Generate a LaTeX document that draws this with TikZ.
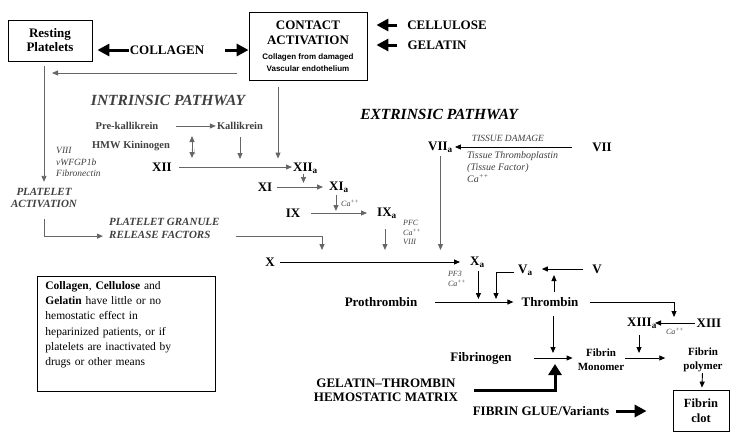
\documentclass[tikz,border=0pt]{standalone}
\usepackage{fontspec}
\setmainfont{Liberation Serif}
\setsansfont{Liberation Sans}
\usetikzlibrary{arrows.meta}
\definecolor{txtgray}{gray}{0.25}
\definecolor{lingray}{gray}{0.4}
\newcommand{\contactsmall}{\sffamily\bfseries\fontsize{8}{9}\selectfont}
\begin{document}
\begin{tikzpicture}[x=1pt,y=-1pt,
  every node/.style={inner sep=1pt},
  lbl/.style={font=\fontsize{13}{14}\selectfont\bfseries, align=center},
  sml/.style={font=\fontsize{10.5}{12}\selectfont\bfseries, text=txtgray},
  fib/.style={font=\fontsize{11}{14}\selectfont\bfseries, align=center},
  hdr/.style={font=\fontsize{15.5}{17}\selectfont\bfseries\itshape},
  pla/.style={font=\fontsize{11}{12.5}\selectfont\bfseries\itshape, text=txtgray, align=center},
  cof/.style={font=\fontsize{9.5}{11.5}\selectfont\itshape, text=txtgray, align=left},
  cofs/.style={font=\fontsize{8}{9.5}\selectfont\itshape, text=txtgray, align=left},
  box/.style={draw, line width=0.8pt, align=center},
  garr/.style={-{Triangle[length=6pt,width=5pt]}, line width=0.9pt, draw=lingray},
  barr/.style={-{Triangle[length=6pt,width=5pt]}, line width=0.9pt},
  fat/.style={-{Triangle[length=12pt,width=12pt]}, line width=3pt},
  fatup/.style={-{Triangle[length=11pt,width=13pt]}, line width=3pt},
]
\useasboundingbox (0,0) rectangle (750,437);

% top row
\node[box, lbl, minimum width=84pt, minimum height=41pt] (rest) at (50,40.5) {Resting\\Platelets};
\node[lbl] (collagen) at (167,50) {COLLAGEN};
\node[box, lbl, font=\fontsize{13}{15}\selectfont\bfseries, minimum width=118pt, minimum height=68pt] (contact) at (308,46)
  {CONTACT\\ACTIVATION\\[0pt]{\contactsmall Collagen from damaged}\\[-3pt]{\contactsmall Vascular endothelium}};
\node[lbl] (cellulose) at (447,25) {CELLULOSE};
\node[lbl] (gelatin) at (437,45) {GELATIN};

\draw[fat, shorten >=5pt] (collagen) -- (rest.east |- collagen);
\draw[fat, shorten <=20pt] (collagen) -- (contact.west |- collagen);
\draw[fat, shorten <=9pt, shorten >=9pt] (cellulose.west) -- (contact.east |- cellulose);
\draw[fat, shorten <=9pt, shorten >=9pt] (gelatin.west -| cellulose.west) -- (contact.east |- gelatin);

% contact activation back to platelets
\coordinate (c1) at (237,73);
\coordinate (c2) at (52,73);
\draw[garr] (c1) -- (c2);

% platelet side
\node[pla] (platact) at (44,198) {PLATELET\\ACTIVATION};
\node[cof, anchor=west] (cofac) at (55,162) {VIII\\vWFGP1b\\Fibronectin};
\node[pla, align=left, anchor=north west] (relfac) at (108,217.5) {PLATELET GRANULE\\RELEASE FACTORS};
\draw[garr, shorten <=5pt, shorten >=5pt] ([xshift=-6pt]rest.south) -- ([xshift=-6pt]rest.south |- platact.north);
\draw[garr, shorten <=10pt, shorten >=5pt] (platact.south) |- ([yshift=-7.5pt]relfac.west);

% intrinsic pathway
\node[hdr, text=txtgray] (intr) at (168,100) {INTRINSIC PATHWAY};
\node[sml] (prekal) at (127,126) {Pre-kallikrein};
\node[sml] (kal) at (240,126) {Kallikrein};
\node[sml] (hmw) at (131,146) {HMW Kininogen};
\draw[garr, shorten <=16pt] (prekal) -- (kal);

\coordinate (k1) at (192,136);
\coordinate (k2) at (192,158);
\draw[garr, {Triangle[length=6pt,width=5pt]}-{Triangle[length=6pt,width=5pt]}] (k1) -- (k2)
  node[midway, left=-2pt, rotate=90, font=\tiny, text=lingray] {$\rightleftharpoons$};

\node[lbl] (xii) at (162,167) {XII};
\node[lbl, anchor=west] (xiia) at (292,168) {XII\textsubscript{a}};
\draw[garr, shorten <=6pt] (xii) -- (xiia.west |- xii);
\draw[garr, shorten <=6pt, shorten >=8pt] (kal) -- (kal |- xii);
\draw[garr, shorten <=7pt, shorten >=3pt] ([xshift=-30pt]contact.south) -- ([xshift=-30pt]contact.south |- xiia.north);

\node[lbl] (xi) at (265,187) {XI};
\node[lbl, anchor=west] (xia) at (328,187) {XI\textsubscript{a}};
\draw[garr, shorten <=4pt, shorten >=5pt] (xi) -- (xia.west |- xi);
\draw[garr, shorten >=4pt] ([xshift=-2pt]xiia.south) -- ([xshift=-2pt]xiia.south |- xi);

\node[lbl] (ix) at (293,213) {IX};
\node[lbl, anchor=west] (ixa) at (376,213) {IX\textsubscript{a}};
\node[cofs, anchor=west] (ca1) at (340,203) {Ca\textsuperscript{++}};
\draw[garr, shorten <=10pt, shorten >=9pt] (ix) -- (ixa.west |- ix);
\draw[garr, shorten <=2pt, shorten >=2pt] ([xshift=-3pt]xia.south) -- ([xshift=-3pt]xia.south |- ix);

\node[cofs, anchor=north west] (pfc) at (402,219) {PFC\\Ca\textsuperscript{++}\\VIII};

% extrinsic pathway
\node[hdr] (extr) at (439,114) {EXTRINSIC PATHWAY};
\node[lbl] (vii) at (602,147) {VII};
\node[lbl, anchor=west] (viia) at (427,147) {VII\textsubscript{a}};
\node[font=\fontsize{9.5}{11}\selectfont\itshape, text=txtgray] (tisdam) at (508,138) {TISSUE DAMAGE};
\node[cof, font=\fontsize{10}{12}\selectfont\itshape, anchor=north west] (tisfac) at (466,150) {Tissue Thromboplastin\\(Tissue Factor)\\Ca\textsuperscript{++}};
\draw[barr, shorten <=19pt, shorten >=1pt] (vii) -- (viia.east |- vii);

% common pathway
\node[lbl] (x) at (270,262) {X};
\node[lbl, anchor=west] (xa) at (469,262) {X\textsubscript{a}};
\draw[barr, shorten <=4pt, shorten >=9pt] (x) -- (xa.west |- x);

\coordinate (j1) at (322,262);
\draw[garr, shorten <=15pt, shorten >=12pt] ([yshift=-7.5pt]relfac.east) -| (j1);
\draw[garr, shorten <=10pt, shorten >=12pt] ([xshift=-2pt]ixa.south) -- ([xshift=-2pt]ixa.south |- x);
\draw[garr, shorten <=3pt, shorten >=12pt] (viia.south) -- (viia.south |- x);

\node[cofs, anchor=north] (pf3) at (457,270) {PF3\\Ca\textsuperscript{++}};

\node[lbl, anchor=west] (va) at (517,270) {V\textsubscript{a}};
\node[lbl] (v) at (597,269) {V};
\node[lbl] (prothr) at (381,302) {Prothrombin};
\node[lbl] (thromb) at (550,302) {Thrombin};
\draw[barr, shorten <=8pt, shorten >=8pt] (v) -- (va.east |- v);
\draw[barr, shorten <=17pt, shorten >=7pt] (prothr) -- (thromb);
\draw[barr, shorten <=3pt, shorten >=3pt] ([xshift=1pt]xa.south) -- ([xshift=1pt]xa.south |- thromb);

\coordinate (j5) at (496,302);
\draw[barr, shorten <=3pt, shorten >=3pt] ([yshift=-2pt]va.west) -| (j5);
\draw[barr, shorten <=4pt, shorten >=6pt] ([xshift=4pt]thromb.north) -- ([xshift=4pt]thromb.north |- v);

\node[lbl, anchor=west] (xiiia) at (626,323) {XIII\textsubscript{a}};
\node[lbl] (xiii) at (709,323) {XIII};
\node[cofs] (ca3) at (675,331) {Ca\textsuperscript{++}};
\draw[barr, shorten <=1pt, shorten >=-3pt] (xiii) -- (xiiia.east |- xiii);
\coordinate (j6) at (674,323);
\draw[barr, shorten <=10pt, shorten >=6pt] (thromb.east) -| (j6);

% fibrin
\node[lbl] (fibgen) at (481,358) {Fibrinogen};
\node[fib] (mono) at (601,360) {Fibrin\\Monomer};
\node[fib] (poly) at (703,360) {Fibrin\\polymer};
\node[box, font=\fontsize{12.5}{15}\selectfont\bfseries, minimum width=56pt, minimum height=41pt] (clot) at (701,410.5) {Fibrin\\clot};
\draw[barr, shorten <=21pt, shorten >=4pt] (fibgen) -- (mono.west |- fibgen);
\draw[barr, shorten >=17pt] ([yshift=2pt]mono.east) -- ([yshift=2pt]mono.east -| poly.west);
\draw[barr, shorten <=8pt, shorten >=5pt] ([xshift=3pt]thromb.south) -- ([xshift=3pt]thromb.south |- fibgen);
\draw[barr, shorten <=6pt, shorten >=5pt] ([xshift=-3pt]xiiia.south) -- ([xshift=-3pt]xiiia.south |- fibgen);
\draw[barr, shorten >=2pt] (poly) -- (clot);

% hemostatic agents
\node[lbl] (gelthr) at (386,390) {GELATIN--THROMBIN\\HEMOSTATIC MATRIX};
\coordinate (j7) at (555,358);
\draw[fatup, shorten <=15pt, shorten >=6pt] (gelthr.east) -| (j7);
\node[lbl] (glue) at (541,411) {FIBRIN GLUE/Variants};
\draw[fat, shorten <=6pt, shorten >=26pt] (glue) -- (clot.west |- glue);

% note
\node[draw, line width=0.8pt, anchor=north west, align=left, text width=162pt, inner xsep=8pt, inner ysep=5pt,
  text depth=97pt, font=\fontsize{11.5}{15.3}\selectfont] (note) at (37,276)
  {\textbf{Collagen}, \textbf{Cellulose} and\\\textbf{Gelatin} have little or no\\hemostatic effect in\\heparinized patients, or if\\platelets are inactivated by\\drugs or other means};
\end{tikzpicture}
\end{document}
